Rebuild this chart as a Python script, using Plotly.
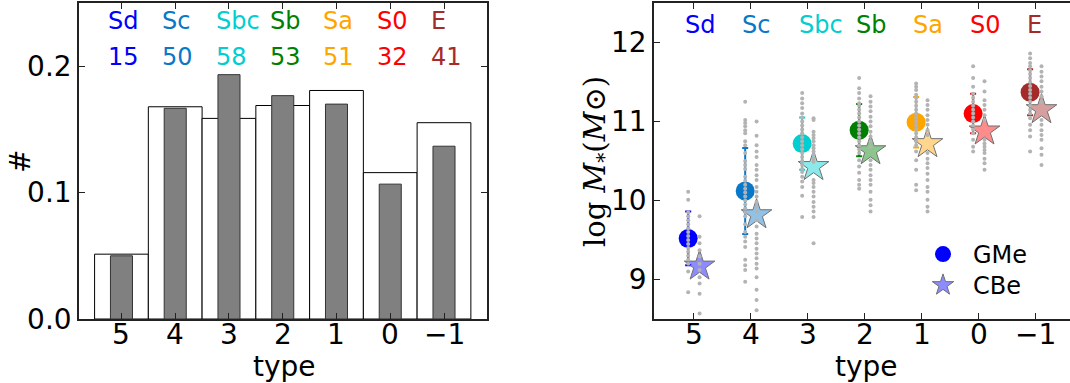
import plotly.graph_objects as go

# ---------------- data ----------------
types = [5, 4, 3, 2, 1, 0, -1]
type_labels = ["5", "4", "3", "2", "1", "0", "\u22121"]
class_names = ["Sd", "Sc", "Sbc", "Sb", "Sa", "S0", "E"]
class_counts = [15, 50, 58, 53, 51, 32, 41]
class_colors = ["#0000FF", "#0A78C8", "#00CED1", "#008000", "#FFA500", "#FF0000", "#A52A2A"]
star_colors = ["rgba(0,0,255,0.45)", "rgba(10,120,200,0.45)", "rgba(0,206,209,0.45)",
               "rgba(0,128,0,0.45)", "rgba(255,165,0,0.45)", "rgba(255,0,0,0.45)",
               "rgba(165,42,42,0.45)"]

# histogram fractions
ref_frac = [0.0513, 0.1679, 0.1587, 0.1689, 0.1808, 0.1158, 0.1553]   # white (open) bars
sample_frac = [0.0500, 0.1667, 0.1933, 0.1767, 0.1700, 0.1067, 0.1367]  # grey bars

# mean stellar mass and scatter
gme_mean = [9.52, 10.12, 10.72, 10.89, 10.99, 11.10, 11.37]
gme_err = [0.34, 0.545, 0.33, 0.33, 0.32, 0.25, 0.29]
cbe_mean = [9.17, 9.82, 10.43, 10.63, 10.72, 10.88, 11.15]

# individual galaxies (GMe)
gme_5 = [10.11, 10.01, 9.85, 9.8, 9.75, 9.7, 9.65, 9.6, 9.55, 9.5, 9.45, 9.4, 9.35, 9.3, 9.25, 9.2, 9.10, 8.84]
gme_4 = [11.25, 11.02, 10.98, 10.94, 10.89, 10.85, 10.75, 10.70, 10.6, 10.5, 10.45, 10.4, 10.3, 10.25,
         10.2, 10.15, 10.1, 10.05, 10.0, 9.95, 9.9, 9.85, 9.8, 9.7, 9.6, 9.54, 9.48, 9.41, 9.25, 9.18,
         9.12, 8.97]
gme_3 = [11.36, 11.29, 11.23, 11.17, 11.10, 11.05, 11.0, 10.95, 10.9, 10.85, 10.8, 10.75, 10.7, 10.65,
         10.6, 10.55, 10.5, 10.45, 10.4, 10.36, 10.30, 10.24, 10.17, 10.06, 9.79]
gme_2 = [11.55, 11.42, 11.36, 11.29, 11.23, 11.2, 11.15, 11.1, 11.05, 11.0, 10.95, 10.9, 10.85, 10.8,
         10.75, 10.7, 10.65, 10.6, 10.51, 10.43, 10.35, 10.26, 10.20, 10.15]
gme_1 = [11.48, 11.44, 11.40, 11.34, 11.3, 11.25, 11.2, 11.15, 11.1, 11.05, 11.0, 10.95, 10.9, 10.85,
         10.8, 10.75, 10.7, 10.62, 10.51, 10.39, 10.20, 10.13]
gme_0 = [11.70, 11.55, 11.44, 11.35, 11.3, 11.25, 11.2, 11.15, 11.1, 11.05, 11.0, 10.95, 10.9, 10.85,
         10.77, 10.68, 10.62]
gme_m1 = [11.86, 11.80, 11.74, 11.70, 11.65, 11.6, 11.55, 11.5, 11.45, 11.4, 11.35, 11.3, 11.25, 11.2,
          11.15, 11.1, 11.04, 10.96, 10.89, 10.81, 10.62]

# individual galaxies (CBe)
cbe_5 = [9.80, 9.54, 9.46, 9.37, 9.29, 9.20, 9.12, 9.03, 8.95, 8.82, 8.57]
cbe_4 = [11.00, 10.82, 10.70, 10.62, 10.55, 10.45, 10.39, 10.32, 10.26, 10.17, 10.11, 10.05, 9.98,
         9.92, 9.86, 9.75, 9.67, 9.58, 9.52, 9.46, 9.39, 9.33, 9.27, 9.20, 9.14, 9.03, 8.87, 8.74, 8.61]
cbe_3 = [11.04, 11.02, 10.87, 10.83, 10.79, 10.75, 10.70, 10.66, 10.62, 10.58, 10.53, 10.49, 10.26,
         10.22, 10.17, 10.11, 10.05, 9.98, 9.92, 9.86, 9.79, 9.46]
cbe_2 = [11.32, 11.25, 11.19, 11.13, 11.06, 11.00, 10.94, 10.87, 10.81, 10.75, 10.68, 10.51, 10.45,
         10.39, 10.32, 10.26, 10.20, 10.11, 10.01, 9.94, 9.86]
cbe_1 = [11.27, 11.21, 11.15, 11.08, 11.02, 10.96, 10.89, 10.83, 10.60, 10.53, 10.47, 10.41, 10.34,
         10.26, 10.17, 10.11, 10.01, 9.92, 9.86]
cbe_0 = [11.51, 11.38, 11.27, 11.21, 11.15, 11.08, 11.02, 10.77, 10.72, 10.68, 10.64, 10.60, 10.53,
         10.47, 10.39]
cbe_m1 = [11.70, 11.63, 11.57, 11.51, 11.44, 11.38, 11.32, 11.25, 11.02, 10.96, 10.89, 10.83, 10.77,
          10.66, 10.58, 10.45]

gme_dots = [gme_5, gme_4, gme_3, gme_2, gme_1, gme_0, gme_m1]
cbe_dots = [cbe_5, cbe_4, cbe_3, cbe_2, cbe_1, cbe_0, cbe_m1]

# ---------------- figure ----------------
W, H = 1070, 383
fig = go.Figure()
OFF = 0.1
FONT = "DejaVu Sans"

# left panel: histogram
fig.add_trace(go.Bar(x=types, y=ref_frac, width=1.0, marker=dict(color="white", line=dict(color="black", width=1)),
                     xaxis="x", yaxis="y", showlegend=False))
fig.add_trace(go.Bar(x=types, y=sample_frac, width=0.41, marker=dict(color="#808080", line=dict(color="#333333", width=1)),
                     xaxis="x", yaxis="y", showlegend=False))

# right panel: means with errors
for i, t in enumerate(types):
    fig.add_trace(go.Scatter(
        x=[t + OFF], y=[gme_mean[i]], mode="markers", xaxis="x2", yaxis="y2",
        marker=dict(symbol="circle", size=19, color=class_colors[i], line=dict(width=0)),
        error_y=dict(type="data", array=[gme_err[i]], color=class_colors[i], thickness=2, width=3),
        name="GMe", showlegend=(i == 0), legend="legend"))
for i, t in enumerate(types):
    fig.add_trace(go.Scatter(
        x=[t - OFF], y=[cbe_mean[i]], mode="markers", xaxis="x2", yaxis="y2",
        marker=dict(symbol="star", size=23, color=star_colors[i], line=dict(width=1, color="#707070")),
        name="CBe", showlegend=(i == 0), legend="legend2"))
# individual galaxies
for i, t in enumerate(types):
    fig.add_trace(go.Scatter(x=[t + OFF] * len(gme_dots[i]), y=gme_dots[i], mode="markers",
                             xaxis="x2", yaxis="y2", showlegend=False,
                             marker=dict(size=4, color="#b3b3b3", line=dict(width=0))))
    fig.add_trace(go.Scatter(x=[t - OFF] * len(cbe_dots[i]), y=cbe_dots[i], mode="markers",
                             xaxis="x2", yaxis="y2", showlegend=False,
                             marker=dict(size=4, color="#b3b3b3", line=dict(width=0))))

annotations = []
for i, t in enumerate(types):
    annotations.append(dict(x=t + 0.28, y=0.236, xref="x", yref="y", text=class_names[i], showarrow=False,
                            xanchor="left", yanchor="middle", font=dict(size=24, color=class_colors[i], family=FONT)))
    annotations.append(dict(x=t + 0.28, y=0.207, xref="x", yref="y", text=str(class_counts[i]), showarrow=False,
                            xanchor="left", yanchor="middle", font=dict(size=24, color=class_colors[i], family=FONT)))
    annotations.append(dict(x=t + 0.19, y=12.22, xref="x2", yref="y2", text=class_names[i], showarrow=False,
                            xanchor="left", yanchor="middle", font=dict(size=24, color=class_colors[i], family=FONT)))
    # x tick labels (both panels)
    for xr in ("x", "x2"):
        annotations.append(dict(x=t, y=1 - 334 / H, xref=xr, yref="paper", text=type_labels[i], showarrow=False,
                                xanchor="center", yanchor="middle", font=dict(size=28, color="black", family=FONT)))

# axis titles
annotations += [
    dict(x=284 / W, y=1 - 366 / H, xref="paper", yref="paper", text="type", showarrow=False,
         xanchor="center", yanchor="middle", font=dict(size=28, color="black", family=FONT)),
    dict(x=866 / W, y=1 - 366 / H, xref="paper", yref="paper", text="type", showarrow=False,
         xanchor="center", yanchor="middle", font=dict(size=28, color="black", family=FONT)),
    dict(x=20 / W, y=1 - 162 / H, xref="paper", yref="paper", text="#", showarrow=False, textangle=-90,
         xanchor="center", yanchor="middle", font=dict(size=28, color="black", family=FONT)),
    dict(x=597 / W, y=1 - 162 / H, xref="paper", yref="paper",
         text="log <i>M</i><sub>*</sub>(<i>M</i>\u2299)", showarrow=False, textangle=-90,
         xanchor="center", yanchor="middle", font=dict(size=29, color="black", family="DejaVu Serif")),
]

ydom = [1 - 319 / H, 1 - 3 / H]
axis_common = dict(showline=True, linecolor="#222222", linewidth=1.5, ticks="inside", ticklen=6,
                   tickwidth=1, tickcolor="#222222", showgrid=False, zeroline=False, automargin=False,
                   tickfont=dict(size=28, color="black", family=FONT))

legend_common = dict(xanchor="left", yanchor="top", bgcolor="rgba(0,0,0,0)", itemwidth=50,
                     font=dict(size=24, color="black", family=FONT), itemsizing="trace")

fig.update_layout(
    width=W, height=H, margin=dict(l=0, r=0, t=0, b=0, autoexpand=False),
    paper_bgcolor="white", plot_bgcolor="white", barmode="overlay",
    xaxis=dict(domain=[79 / W, 487 / W], range=[5.79, -1.80], tickvals=types, showticklabels=False,
               anchor="y", mirror="ticks", **axis_common),
    yaxis=dict(domain=ydom, range=[0, 0.25], tickvals=[0.0, 0.1, 0.2], ticktext=["0.0", "0.1", "0.2"],
               anchor="x", mirror="ticks", **axis_common),
    xaxis2=dict(domain=[654 / W, 1.0], range=[5.70, -1.60], tickvals=types, showticklabels=False,
                anchor="y2", mirror="ticks", **axis_common),
    yaxis2=dict(domain=ydom, range=[8.5, 12.5], tickvals=[9, 10, 11, 12], ticktext=["9", "10", "11", "12"],
                anchor="x2", mirror=False, **axis_common),
    legend=dict(x=913 / W, y=1 - 232 / H, **legend_common),
    legend2=dict(x=913 / W, y=1 - 263 / H, **legend_common),
    annotations=annotations,
)

fig.write_html("out.html", config={"displayModeBar": False},
               post_script="document.body.style.margin='0';document.body.style.padding='0';"
                           "document.body.style.overflow='hidden';")
